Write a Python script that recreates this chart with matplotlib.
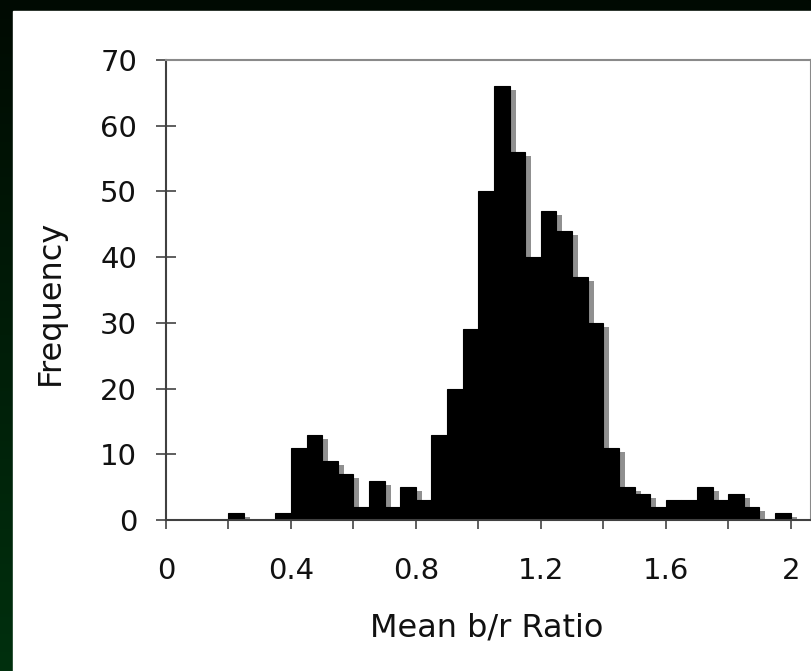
import numpy as np
import matplotlib
matplotlib.use("Agg")
import matplotlib.pyplot as plt
from matplotlib import transforms
from matplotlib.patches import Rectangle

# histogram of mean b/r ratio, bins 0.05 wide (left edges)
bin_left = [0.20, 0.25, 0.30, 0.35, 0.40, 0.45, 0.50, 0.55, 0.60, 0.65,
            0.70, 0.75, 0.80, 0.85, 0.90, 0.95, 1.00, 1.05, 1.10, 1.15,
            1.20, 1.25, 1.30, 1.35, 1.40, 1.45, 1.50, 1.55, 1.60, 1.65,
            1.70, 1.75, 1.80, 1.85, 1.90, 1.95]
counts = [1, 0, 0, 1, 11, 13, 9, 7, 2, 6,
          2, 5, 3, 13, 20, 29, 50, 66, 56, 40,
          47, 44, 37, 30, 11, 5, 4, 2, 3, 3,
          5, 3, 4, 2, 0, 1]
bin_width = 0.05

x_major = [0, 0.4, 0.8, 1.2, 1.6, 2.0]
x_labels = ["0", "0.4", "0.8", "1.2", "1.6", "2"]
x_minor = [0.2, 0.6, 1.0, 1.4, 1.8]
y_ticks = [0, 10, 20, 30, 40, 50, 60, 70]

W, H = 812, 671
fig = plt.figure(figsize=(W / 100, H / 100), dpi=100)

# dark green slide background with white panel
bg = fig.add_axes([0, 0, 1, 1], zorder=-10)
grad = np.linspace(0, 1, 256).reshape(-1, 1)
cmap = matplotlib.colors.LinearSegmentedColormap.from_list("g", ["#000a02", "#01300e"])
bg.imshow(grad, aspect="auto", cmap=cmap, extent=[0, 1, 0, 1], origin="upper")
bg.add_patch(Rectangle((13 / W, 0), 1, 1 - 11 / H, color="white", transform=bg.transAxes))
bg.set_xlim(0, 1)
bg.set_ylim(0, 1)
bg.axis("off")

ax = fig.add_axes([166 / W, 151 / H, 645 / W, 460 / H])
ax.set_facecolor("white")

# grey drop shadow, shifted right/down a few pixels
shift = transforms.ScaledTranslation(6 / 100, -4 / 100, fig.dpi_scale_trans)
shadow = ax.bar(bin_left, counts, width=bin_width, align="edge",
                color="#909090", linewidth=0, zorder=1)
for p in shadow:
    p.set_transform(ax.transData + shift)
ax.bar(bin_left, counts, width=bin_width, align="edge",
       color="black", edgecolor="black", linewidth=0.8, zorder=2)

ax.set_xlim(0, 2.065)
ax.set_ylim(0, 70)

ax.set_xticks(x_major)
ax.set_xticklabels(x_labels)
ax.set_xticks(x_minor, minor=True)
ax.set_yticks(y_ticks)

font = "DejaVu Sans"
for lab in ax.get_xticklabels() + ax.get_yticklabels():
    lab.set_fontfamily(font)
    lab.set_fontsize(21)
    lab.set_color("#111111")

ax.tick_params(axis="x", which="both", direction="out", length=6.5,
               width=1.1, color="#333333", pad=20)
ax.tick_params(axis="y", direction="inout", length=13.7, width=1.1,
               color="#333333", pad=14)

for side in ["left", "bottom"]:
    ax.spines[side].set_color("#404040")
    ax.spines[side].set_linewidth(1.5)
for side in ["top", "right"]:
    ax.spines[side].set_color("#8a8a8a")
    ax.spines[side].set_linewidth(1.5)

fig.text(487 / W, 34 / H, "Mean b/r Ratio", ha="center", va="baseline",
         fontsize=23, family=font, color="#111111")
fig.text(50 / W, (H - 302) / H, "Frequency", ha="center", va="center",
         rotation=90, fontsize=23, family=font, color="#111111")

fig.savefig("out.png", dpi=100)
